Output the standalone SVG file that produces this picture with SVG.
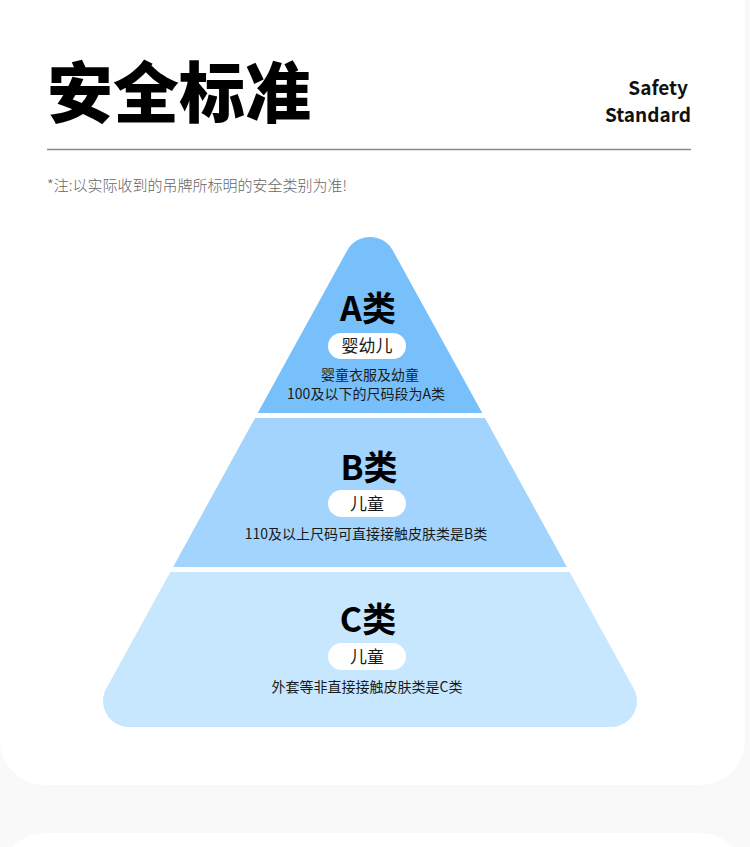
<svg xmlns="http://www.w3.org/2000/svg" width="750" height="847" viewBox="0 0 750 847">
  <defs>
    <style>
      .cjk { font-family: "Noto Sans CJK SC", "Noto Sans", sans-serif; }
      .tier-title { font-size: 34px; font-weight: 700; fill: #000; text-anchor: middle; }
      .pill { fill: #ffffff; }
      .pill-text { font-size: 17px; fill: #1a1a1a; text-anchor: middle; }
      .desc { font-size: 14px; fill: #1a1a1a; text-anchor: middle; }
    </style>
    <clipPath id="pyr">
      <path d="M 347.2 250.4 A 26 26 0 0 1 392.8 250.4 L 633.7 688.4 A 26 26 0 0 1 610.9 727 L 129.1 727 A 26 26 0 0 1 106.3 688.4 Z"/>
    </clipPath>
  </defs>

  <rect x="0" y="0" width="750" height="847" fill="#f9f9f9"/>
  <path d="M0 0 H745 V740 A45 45 0 0 1 700 785 H45 A45 45 0 0 1 0 740 Z" fill="#ffffff"/>
  <path d="M0 878 A45 45 0 0 1 45 833 H700 A45 45 0 0 1 745 878 V900 H0 Z" fill="#ffffff"/>

  <g id="header">
    <text x="47" y="117" class="cjk" font-size="66" font-weight="900" fill="#000">安全标准</text>
    <text x="688" y="95" class="cjk" font-size="19" font-weight="700" fill="#111" text-anchor="end">Safety</text>
    <text x="691" y="122" class="cjk" font-size="19" font-weight="700" fill="#111" text-anchor="end">Standard</text>
    <line x1="47" y1="149.5" x2="691" y2="149.5" stroke="#8a8a8a" stroke-width="1.5"/>
    <text x="47" y="191" class="cjk" font-size="15" font-weight="300" fill="#666">*注:以实际收到的吊牌所标明的安全类别为准!</text>
  </g>

  <g id="tier-a">
    <rect x="0" y="200" width="750" height="213" fill="#77c0fc" clip-path="url(#pyr)"/>
    <text x="368" y="321" class="cjk tier-title">A类</text>
    <rect x="328" y="333" width="78" height="26" rx="13" class="pill"/>
    <text x="367" y="352" class="cjk pill-text">婴幼儿</text>
    <text x="370" y="380" class="cjk desc">婴童衣服及幼童</text>
    <text x="366" y="399" class="cjk desc">100及以下的尺码段为A类</text>
  </g>

  <g id="tier-b">
    <rect x="0" y="418" width="750" height="149" fill="#a2d4fd" clip-path="url(#pyr)"/>
    <text x="369" y="480" class="cjk tier-title">B类</text>
    <rect x="328" y="490" width="78" height="27" rx="13.5" class="pill"/>
    <text x="367" y="510" class="cjk pill-text">儿童</text>
    <text x="366" y="539" class="cjk desc">110及以上尺码可直接接触皮肤类是B类</text>
  </g>

  <g id="tier-c">
    <rect x="0" y="572" width="750" height="170" fill="#c6e7fe" clip-path="url(#pyr)"/>
    <text x="368" y="632" class="cjk tier-title">C类</text>
    <rect x="328" y="643" width="78" height="27" rx="13.5" class="pill"/>
    <text x="367" y="663" class="cjk pill-text">儿童</text>
    <text x="367" y="692" class="cjk desc">外套等非直接接触皮肤类是C类</text>
  </g>

  <g id="connectors"></g>
</svg>
